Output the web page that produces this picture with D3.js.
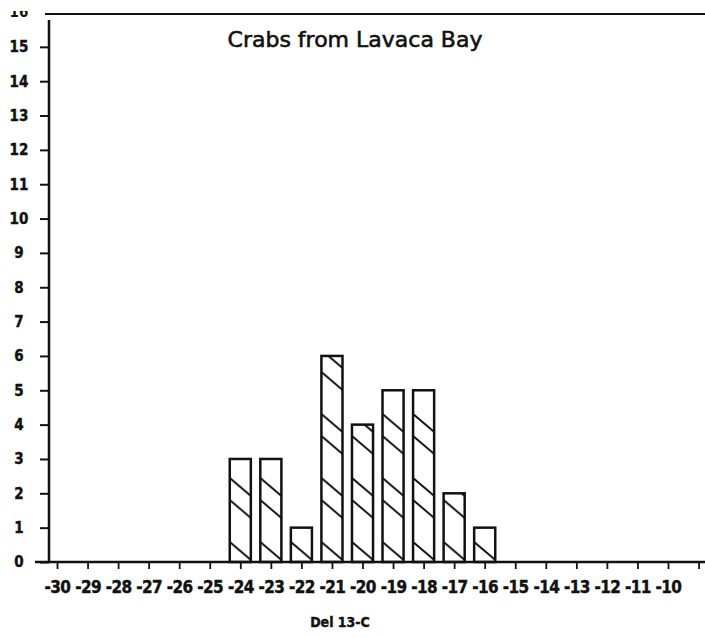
<!DOCTYPE html>
<html>
<head>
<meta charset="utf-8">
<script src="https://cdn.jsdelivr.net/npm/d3@7"></script>
<style>
  body { margin: 0; background: #fff; }
  svg { display: block; }
</style>
</head>
<body>
<svg id="chart"></svg>
<script>
// data
var binCenters = [-24, -23, -22, -21, -20, -19, -18, -17, -16];
var crabCounts = [3, 3, 1, 6, 4, 5, 5, 2, 1];
var xTicks = [-30, -29, -28, -27, -26, -25, -24, -23, -22, -21, -20, -19, -18, -17, -16, -15, -14, -13, -12, -11, -10, -9];
var xTickLabels = ["-30", "-29", "-28", "-27", "-26", "-25", "-24", "-23", "-22", "-21", "-20", "-19", "-18", "-17", "-16", "-15", "-14", "-13", "-12", "-11", "-10", ""];
var yTicks = [0, 1, 2, 3, 4, 5, 6, 7, 8, 9, 10, 11, 12, 13, 14, 15];
var yTopLabel = 16;
var chartTitle = "Crabs from Lavaca Bay";
var xTitle = "Del 13-C";

var width = 705,
    height = 638;
var ink = "#111";
var labelFont = "'DejaVu Sans Condensed', 'DejaVu Sans', sans-serif";

var svg = d3.select("#chart")
    .attr("width", width)
    .attr("height", height);

var x = d3.scaleLinear().domain([-30, -10]).range([57, 668]);
var y = d3.scaleLinear().domain([0, 16]).range([562, 12.5]);

var step = x(-29) - x(-30);
var barWidth = step * 0.69;

// hatch: "\" lines, same phase at every bar's left edge
var defs = svg.append("defs");
var hatch = defs.append("pattern")
    .attr("id", "hatch")
    .attr("patternUnits", "userSpaceOnUse")
    .attr("x", x(-30) - barWidth / 2)
    .attr("y", y(0))
    .attr("width", step)
    .attr("height", 64);
var slope = 0.85;
[2, 44].forEach(function(o) {
    [-64, 0, 64].forEach(function(s) {
        hatch.append("line")
            .attr("x1", 0).attr("y1", o + s)
            .attr("x2", step).attr("y2", o + s + slope * step)
            .attr("stroke", ink)
            .attr("stroke-width", 2);
    });
});

defs.append("clipPath").attr("id", "topcut")
    .append("rect").attr("x", 0).attr("y", 11).attr("width", 60).attr("height", 20);

// frame line across the top
svg.append("line")
    .attr("x1", 45).attr("x2", width)
    .attr("y1", 14).attr("y2", 14)
    .attr("stroke", ink).attr("stroke-width", 2);

// title
svg.append("text")
    .attr("x", 355).attr("y", 47)
    .attr("text-anchor", "middle")
    .attr("font-family", "'DejaVu Sans', sans-serif")
    .attr("font-size", 22)
    .attr("fill", ink)
    .attr("stroke", ink)
    .attr("stroke-width", 0.6)
    .text(chartTitle);

// y axis
var yAxis = svg.append("g")
    .attr("transform", "translate(49,0)")
    .call(d3.axisLeft(y).tickValues(yTicks).tickSize(9).tickSizeOuter(0));
yAxis.attr("font-family", labelFont).attr("font-size", 15).attr("font-weight", "bold");
yAxis.select(".domain").remove();
yAxis.selectAll(".tick line").attr("stroke", ink).attr("stroke-width", 2);
yAxis.selectAll(".tick text")
    .attr("x", -30)
    .attr("text-anchor", "middle")
    .attr("fill", ink)
    .attr("stroke", ink)
    .attr("stroke-width", 0.4);
svg.append("line")
    .attr("x1", 49).attr("x2", 49)
    .attr("y1", 20).attr("y2", y(0))
    .attr("stroke", ink).attr("stroke-width", 2.5);
svg.append("text")
    .attr("clip-path", "url(#topcut)")
    .attr("x", 19).attr("y", y(yTopLabel))
    .attr("dy", "0.32em")
    .attr("text-anchor", "middle")
    .attr("font-family", labelFont)
    .attr("font-weight", "bold")
    .attr("font-size", 15)
    .attr("fill", ink)
    .text(yTopLabel);

// x axis
var xAxis = svg.append("g")
    .attr("transform", "translate(0," + y(0) + ")")
    .call(d3.axisBottom(x).tickValues(xTicks).tickSize(7).tickPadding(12)
        .tickFormat(function(d, i) { return xTickLabels[i]; }));
xAxis.attr("font-family", labelFont).attr("font-size", 17).attr("font-weight", "bold");
xAxis.select(".domain").remove();
xAxis.selectAll(".tick line").attr("stroke", ink).attr("stroke-width", 1.8);
xAxis.selectAll(".tick text")
    .attr("fill", ink)
    .attr("stroke", ink)
    .attr("stroke-width", 0.4)
    .attr("letter-spacing", -0.6);
svg.append("line")
    .attr("x1", 35).attr("x2", width)
    .attr("y1", y(0)).attr("y2", y(0))
    .attr("stroke", ink).attr("stroke-width", 2.5);

// bars
svg.append("g").selectAll("rect")
    .data(binCenters)
    .enter()
    .append("rect")
    .attr("x", function(d) { return x(d) - barWidth / 2; })
    .attr("y", function(d, i) { return y(crabCounts[i]); })
    .attr("width", barWidth)
    .attr("height", function(d, i) { return y(0) - y(crabCounts[i]); })
    .attr("fill", "url(#hatch)")
    .attr("stroke", ink)
    .attr("stroke-width", 2.5);

// x title
svg.append("text")
    .attr("x", 340).attr("y", 627)
    .attr("text-anchor", "middle")
    .attr("font-family", labelFont)
    .attr("font-weight", "bold")
    .attr("font-size", 14)
    .attr("fill", ink)
    .attr("stroke", ink)
    .attr("stroke-width", 0.4)
    .text(xTitle);
</script>
</body>
</html>
